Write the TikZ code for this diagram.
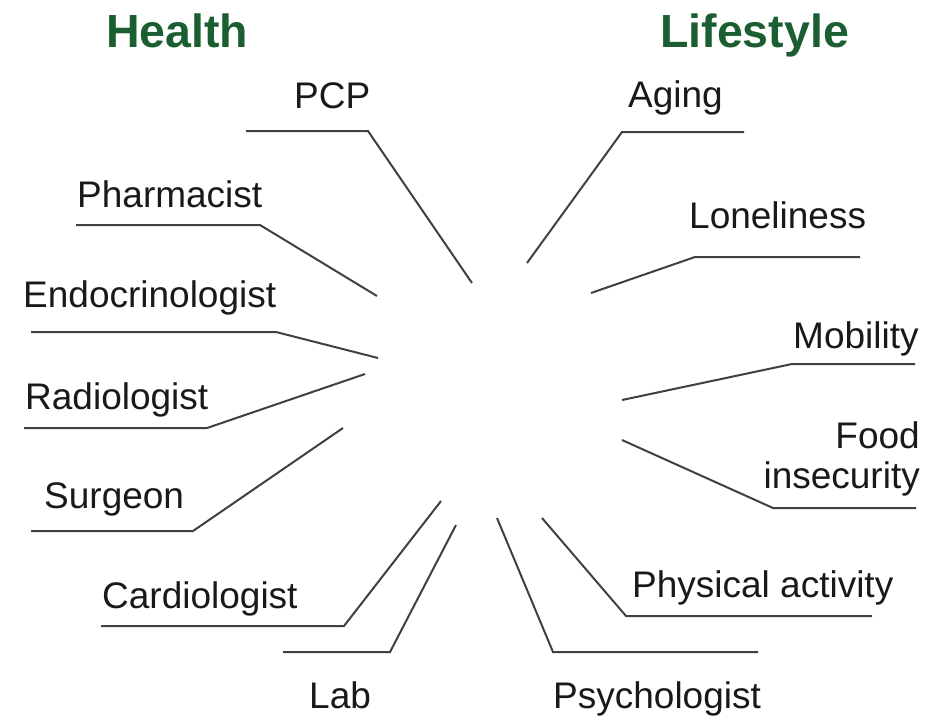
\documentclass[tikz,border=0pt]{standalone}
\usepackage{fontspec}
\setmainfont{Liberation Sans}
\usetikzlibrary{positioning}
\definecolor{titreV}{HTML}{1B5E32}
\definecolor{traitG}{HTML}{404040}
\tikzset{
  titre/.style={font=\fontsize{46.5}{50}\selectfont\bfseries, text=titreV, inner sep=0pt, anchor=base west},
  lbl/.style={font=\fontsize{37}{40}\selectfont, text=black!90, inner sep=0pt, anchor=base west},
  lien/.style={draw=traitG, line width=2pt},
}
\begin{document}
\begin{tikzpicture}[x=1pt, y=-1pt]
    \useasboundingbox (0,0) rectangle (944,718);
    % titles
    \node[titre] (health) at (106,47) {Health};
    \node[titre] (life) at (660,47) {Lifestyle};
    % health side
    \node[lbl] (pcp) at (294,108) {PCP};
    \node[lbl] (pharma) at (77,207) {Pharmacist};
    \node[lbl] (endo) at (23,307) {Endocrinologist};
    \node[lbl] (radio) at (25,409) {Radiologist};
    \node[lbl] (surg) at (44,508) {Surgeon};
    \node[lbl] (cardio) at (102,608) {Cardiologist};
    \node[lbl] (lab) at (309,708) {Lab};
    % lifestyle side
    \node[lbl] (aging) at (628,107) {Aging};
    \node[lbl] (lonely) at (689,228) {Loneliness};
    \node[lbl] (mobil) at (793,348) {Mobility};
    \node[lbl, anchor=base east, align=right] (food) at (920,488) {Food\\insecurity};
    \node[lbl] (phys) at (632,597) {Physical activity};
    \node[lbl] (psych) at (553,708) {Psychologist};
    % leader lines
    \coordinate (pcpA) at (246,131); \coordinate (pcpB) at (368,131); \coordinate (pcpC) at (472,283);
    \coordinate (phaA) at (76,225); \coordinate (phaB) at (260,225); \coordinate (phaC) at (377,296);
    \coordinate (endA) at (31,332); \coordinate (endB) at (276,332); \coordinate (endC) at (378,358);
    \coordinate (radA) at (24,428); \coordinate (radB) at (207,428); \coordinate (radC) at (365,374);
    \coordinate (surA) at (31,531); \coordinate (surB) at (193,531); \coordinate (surC) at (343,428);
    \coordinate (carA) at (101,626); \coordinate (carB) at (344,626); \coordinate (carC) at (441,501);
    \coordinate (labA) at (283,652); \coordinate (labB) at (390,652); \coordinate (labC) at (456,525);
    \coordinate (agiA) at (744,132); \coordinate (agiB) at (622,132); \coordinate (agiC) at (527,263);
    \coordinate (lonA) at (860,257); \coordinate (lonB) at (695,257); \coordinate (lonC) at (591,293);
    \coordinate (mobA) at (915,364); \coordinate (mobB) at (792,364); \coordinate (mobC) at (622,400);
    \coordinate (fooA) at (916,508); \coordinate (fooB) at (773,508); \coordinate (fooC) at (622,440);
    \coordinate (phyA) at (872,616); \coordinate (phyB) at (626,616); \coordinate (phyC) at (542,518);
    \coordinate (psyA) at (758,652); \coordinate (psyB) at (553,652); \coordinate (psyC) at (497,518);
    \draw[lien] (pcpA) -- (pcpB) -- (pcpC);
    \draw[lien] (phaA) -- (phaB) -- (phaC);
    \draw[lien] (endA) -- (endB) -- (endC);
    \draw[lien] (radA) -- (radB) -- (radC);
    \draw[lien] (surA) -- (surB) -- (surC);
    \draw[lien] (carA) -- (carB) -- (carC);
    \draw[lien] (labA) -- (labB) -- (labC);
    \draw[lien] (agiA) -- (agiB) -- (agiC);
    \draw[lien] (lonA) -- (lonB) -- (lonC);
    \draw[lien] (mobA) -- (mobB) -- (mobC);
    \draw[lien] (fooA) -- (fooB) -- (fooC);
    \draw[lien] (phyA) -- (phyB) -- (phyC);
    \draw[lien] (psyA) -- (psyB) -- (psyC);
\end{tikzpicture}
\end{document}
